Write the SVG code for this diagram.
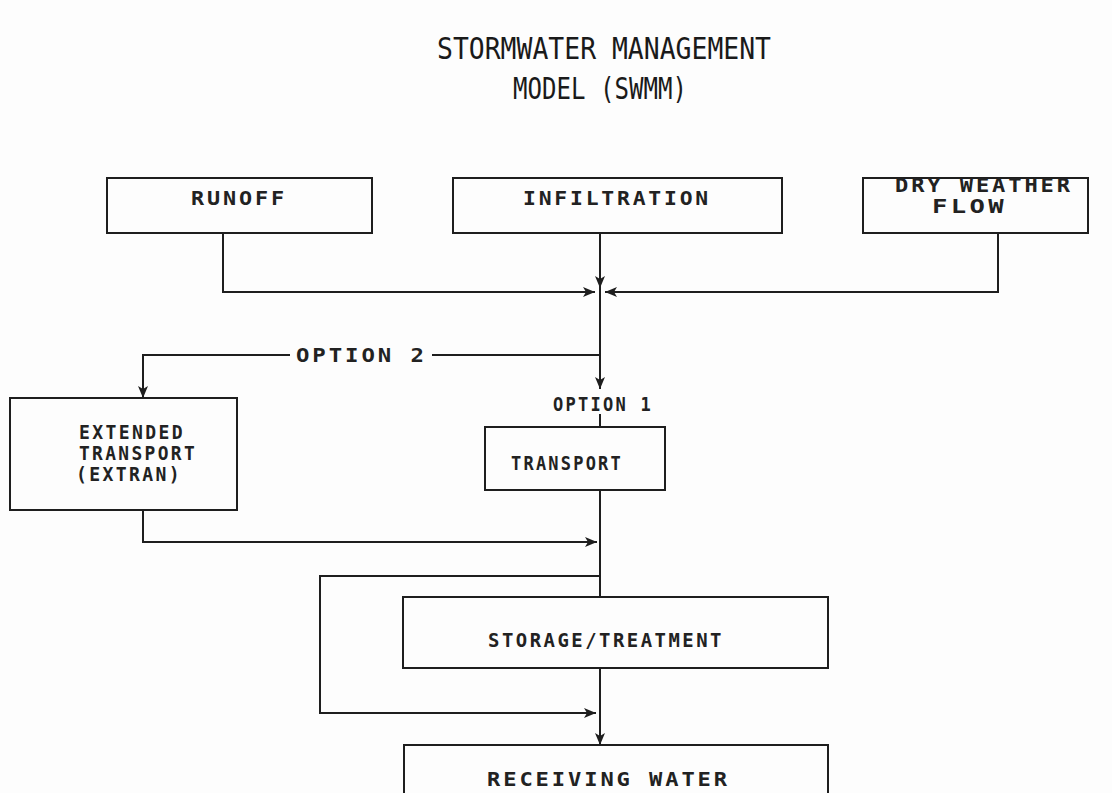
<svg xmlns="http://www.w3.org/2000/svg" width="1112" height="793" viewBox="0 0 1112 793">
  <defs>
    <style>
      .box { fill: none; stroke: #1e1e1e; stroke-width: 2; }
      .line { fill: none; stroke: #1e1e1e; stroke-width: 2; }
      .lbl { font-family: "DejaVu Sans Mono", "Liberation Mono", monospace; font-size: 19px; font-weight: bold; letter-spacing: 2.5px; fill: #222222; }
      .title { font-family: "DejaVu Sans Mono", "Liberation Mono", monospace; font-size: 30px; fill: #1a1a1a; }
    </style>
    <marker id="arr" viewBox="0 0 12 10" refX="12" refY="5" markerWidth="12" markerHeight="10" markerUnits="userSpaceOnUse" orient="auto">
      <path d="M0,0 L12,5 L0,10 L3,5 z" fill="#1e1e1e"/>
    </marker>
  </defs>
  <rect x="0" y="0" width="1112" height="793" fill="#fdfdfd"/>

  <g id="title">
    <text class="title" x="437" y="59" textLength="334" lengthAdjust="spacingAndGlyphs">STORMWATER MANAGEMENT</text>
    <text class="title" x="513" y="99" textLength="174" lengthAdjust="spacingAndGlyphs">MODEL (SWMM)</text>
  </g>

  <g id="runoff">
    <rect class="box" x="107" y="178" width="265" height="55"/>
    <text class="lbl" x="191" y="205" textLength="96" lengthAdjust="spacingAndGlyphs">RUNOFF</text>
  </g>
  <g id="infiltration">
    <rect class="box" x="453" y="178" width="329" height="55"/>
    <text class="lbl" x="523" y="205" textLength="188" lengthAdjust="spacingAndGlyphs">INFILTRATION</text>
  </g>
  <g id="dry-weather-flow">
    <rect class="box" x="863" y="178" width="225" height="55"/>
    <text class="lbl" x="895" y="192" textLength="178" lengthAdjust="spacingAndGlyphs">DRY WEATHER</text>
    <text class="lbl" x="932" y="213" textLength="75" lengthAdjust="spacingAndGlyphs">FLOW</text>
  </g>
  <g id="extran">
    <rect class="box" x="10" y="398" width="227" height="112"/>
    <text class="lbl" x="79" y="439" textLength="106" lengthAdjust="spacingAndGlyphs">EXTENDED</text>
    <text class="lbl" x="79" y="460" textLength="118" lengthAdjust="spacingAndGlyphs">TRANSPORT</text>
    <text class="lbl" x="76" y="481" textLength="106" lengthAdjust="spacingAndGlyphs">(EXTRAN)</text>
  </g>
  <g id="transport">
    <rect class="box" x="485" y="427" width="180" height="63"/>
    <text class="lbl" x="511" y="470" textLength="112" lengthAdjust="spacingAndGlyphs">TRANSPORT</text>
  </g>
  <g id="storage-treatment">
    <rect class="box" x="403" y="597" width="425" height="71"/>
    <text class="lbl" x="488" y="647" textLength="236" lengthAdjust="spacingAndGlyphs">STORAGE/TREATMENT</text>
  </g>
  <g id="receiving-water">
    <rect class="box" x="404" y="745" width="424" height="60"/>
    <text class="lbl" x="487" y="786" textLength="243" lengthAdjust="spacingAndGlyphs">RECEIVING WATER</text>
  </g>

  <g id="connectors">
    <path class="line" d="M223,233 V292 H595" marker-end="url(#arr)"/>
    <path class="line" d="M998,233 V292 H605" marker-end="url(#arr)"/>
    <path class="line" d="M600,233 V288" marker-end="url(#arr)"/>
    <path class="line" d="M600,286 V389" marker-end="url(#arr)"/>
    <path class="line" d="M600,355 H432"/>
    <path class="line" d="M290,355 H143 V398" marker-end="url(#arr)"/>
    <text class="lbl" x="296" y="362" textLength="131" lengthAdjust="spacingAndGlyphs">OPTION 2</text>
    <text class="lbl" x="553" y="411" textLength="100" lengthAdjust="spacingAndGlyphs">OPTION 1</text>
    <path class="line" d="M600,414 V427"/>
    <path class="line" d="M600,490 V597"/>
    <path class="line" d="M143,510 V542 H597" marker-end="url(#arr)"/>
    <path class="line" d="M600,576 H320 V713 H596" marker-end="url(#arr)"/>
    <path class="line" d="M600,668 V745" marker-end="url(#arr)"/>
  </g>
</svg>
